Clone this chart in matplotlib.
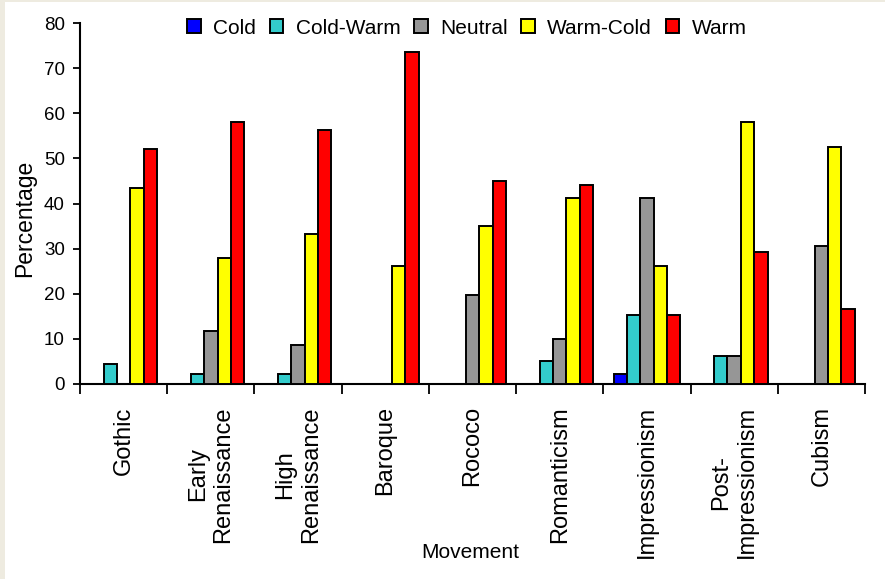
import matplotlib
matplotlib.use("Agg")
import matplotlib.pyplot as plt
import numpy as np
from matplotlib.patches import Rectangle

plt.rcParams["font.family"] = ["Liberation Sans", "DejaVu Sans"]

movements = ["Gothic", "Early\nRenaissance", "High\nRenaissance", "Baroque",
             "Rococo", "Romanticism", "Impressionism", "Post-\nImpressionism",
             "Cubism"]
series = ["Cold", "Cold-Warm", "Neutral", "Warm-Cold", "Warm"]
colors = ["#0000FF", "#33CCCC", "#969696", "#FFFF00", "#FF0000"]

cold = [0, 0, 0, 0, 0, 0, 2.2, 0, 0]
cold_warm = [4.4, 2.2, 2.2, 0, 0, 5.0, 15.4, 6.2, 0]
neutral = [0, 11.8, 8.6, 0, 19.8, 9.9, 41.3, 6.2, 30.6]
warm_cold = [43.5, 27.9, 33.2, 26.1, 35.0, 41.3, 26.1, 58.0, 52.6]
warm = [52.1, 58.0, 56.2, 73.6, 44.9, 44.1, 15.4, 29.2, 16.6]
values = [cold, cold_warm, neutral, warm_cold, warm]

W, H = 885, 579
fig = plt.figure(figsize=(W / 100, H / 100), dpi=100)
fig.patch.set_facecolor("#EEEBE0")
fig.patches.append(Rectangle((5 / W, 0), 1, 1 - 2 / H, transform=fig.transFigure,
                             facecolor="white", edgecolor="none", zorder=-10))

ax = fig.add_axes([80 / W, 1 - 384 / H, 785 / W, 361 / H])
ax.set_facecolor("none")

x = np.arange(len(movements))
bw = 0.153
for i, (name, vals, c) in enumerate(zip(series, values, colors)):
    vals = np.array(vals, dtype=float)
    # Excel leaves empty categories blank, so skip zero bars
    mask = vals > 0
    ax.bar(x[mask] + (i - 2) * bw, vals[mask], width=bw, color=c,
           edgecolor="black", linewidth=1.4, label=name, zorder=3)

ax.set_xlim(-0.5, len(movements) - 0.5)
ax.set_ylim(0, 80)
ax.set_yticks(range(0, 81, 10))
ax.tick_params(axis="y", direction="out", length=5, width=1.3, pad=6,
               labelsize=13.5)
ax.set_xticks(x, movements, rotation=90, fontsize=17, linespacing=1.2)
ax.tick_params(axis="x", which="major", length=0, pad=16)
ax.set_xticks(np.arange(-0.5, len(movements)), minor=True)
ax.tick_params(axis="x", which="minor", direction="out", length=7, width=1.3)
for lbl in ax.get_xticklabels():
    lbl.set_multialignment("center")

for s in ("top", "right"):
    ax.spines[s].set_visible(False)
for s in ("left", "bottom"):
    ax.spines[s].set_linewidth(1.5)

fig.text(25 / W, 1 - 218 / H, "Percentage", rotation=90, ha="center",
         va="center", fontsize=16.5)
fig.text(470 / W, 1 - 553 / H, "Movement", ha="center", va="center",
         fontsize=15)

fig.legend(loc="center", bbox_to_anchor=(467 / W, 1 - 28 / H), ncol=5,
           frameon=False, fontsize=15, handlelength=0.65, handleheight=0.65,
           handletextpad=0.6, columnspacing=0.65, borderpad=0)

fig.savefig("out.png", dpi=100)
